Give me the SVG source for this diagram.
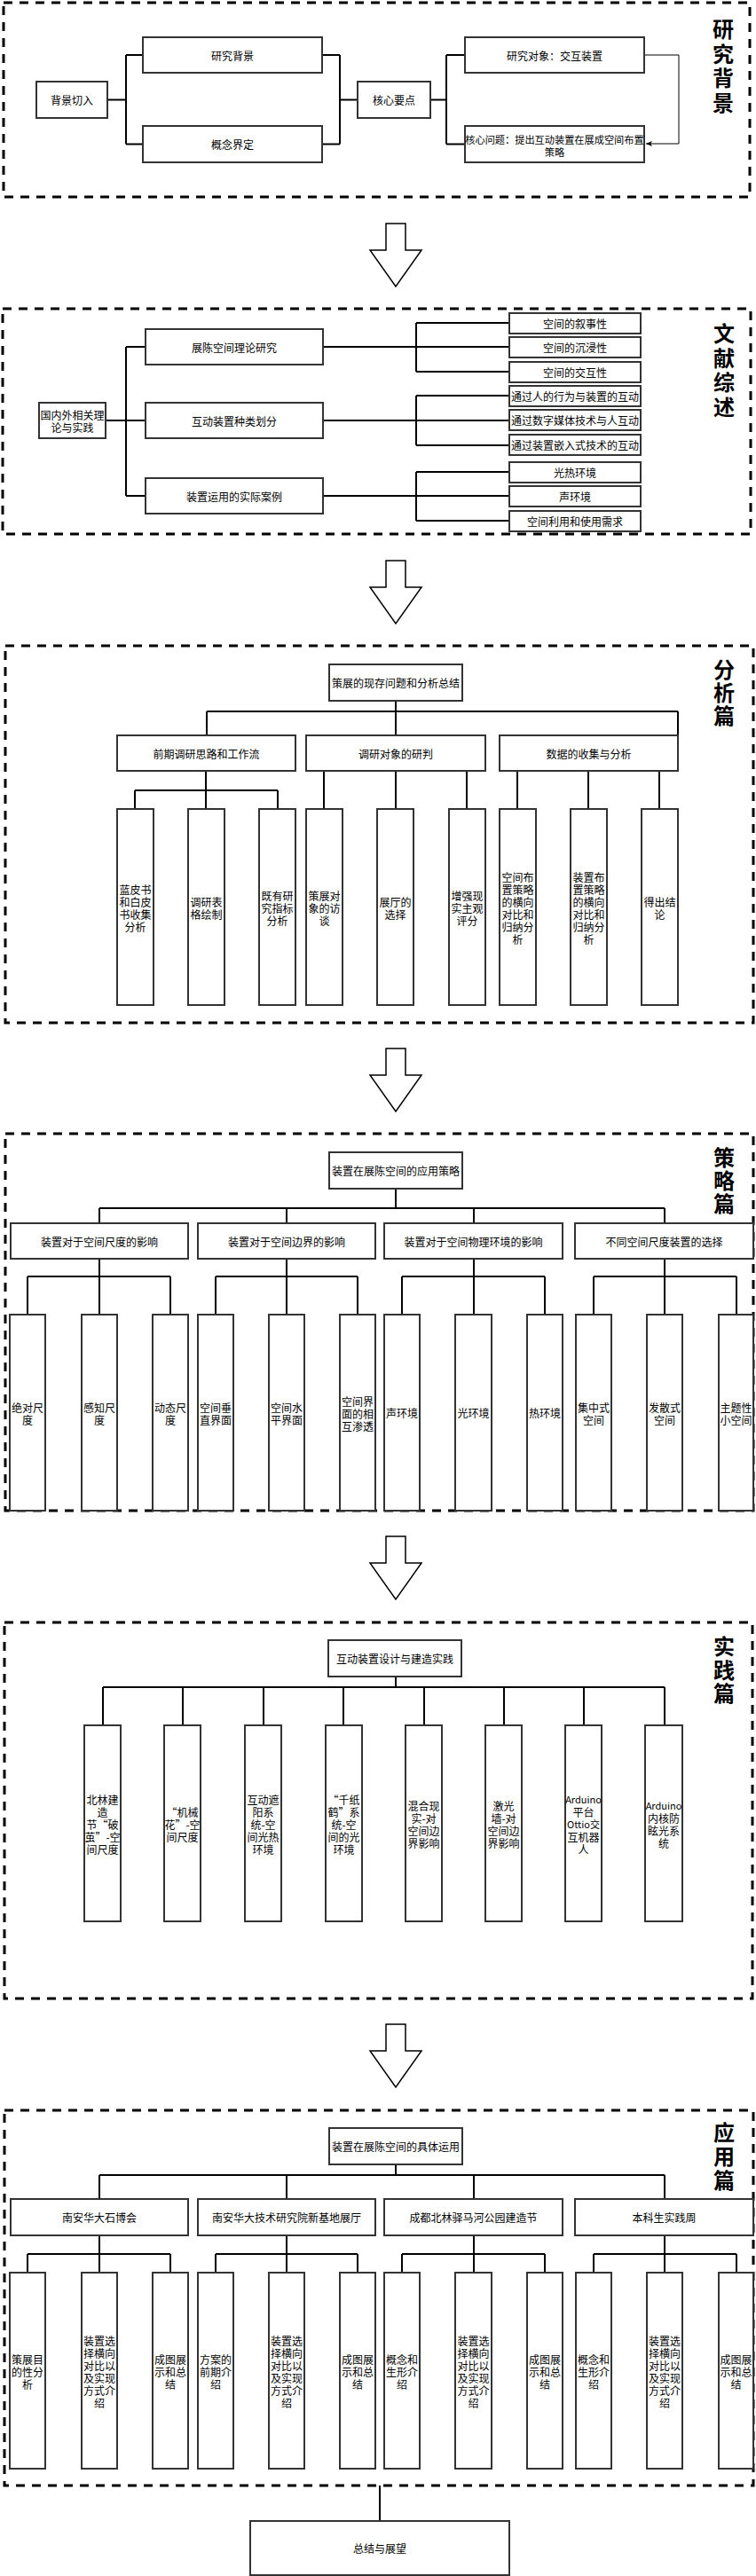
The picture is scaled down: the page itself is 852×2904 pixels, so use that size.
<svg xmlns="http://www.w3.org/2000/svg" width="852" height="2904" viewBox="0 0 852 2904">
<style>
.b{fill:#fff;stroke:#333;stroke-width:2}
.c{fill:none;stroke:#000;stroke-width:2}
.t{font-family:"Noto Sans CJK SC","Noto Sans",sans-serif;font-size:12px;text-anchor:middle;dominant-baseline:central;fill:#000}
.h{font-family:"Noto Sans CJK SC","Noto Sans",sans-serif;font-size:24px;font-weight:bold;writing-mode:vertical-rl;text-anchor:start;fill:#000}
.d{fill:none;stroke:#000;stroke-width:3;stroke-dasharray:10 8}
.ar{fill:#fff;stroke:#000;stroke-width:1.5}
</style>
<defs>
<marker id="m" viewBox="0 0 10 10" refX="9" refY="5" markerWidth="8" markerHeight="8" orient="auto" markerUnits="userSpaceOnUse"><path d="M0,1 L9,5 L0,9 L2.5,5 Z" fill="#000"/></marker>
</defs>

<!-- section frames -->
<g id="frames">
<rect class="d" x="4" y="3" width="841" height="219"/>
<rect class="d" x="3" y="348" width="843" height="254"/>
<rect class="d" x="6" y="728" width="843" height="425"/>
<rect class="d" x="6" y="1278" width="843" height="425"/>
<rect class="d" x="5" y="1829" width="843" height="424"/>
<rect class="d" x="5" y="2379" width="844" height="423"/>
</g>

<!-- section titles -->
<g id="titles">
<text class="h" x="815" y="21" style="letter-spacing:3.5px">研究背景</text>
<text class="h" x="816" y="364" style="letter-spacing:3.5px">文献综述</text>
<text class="h" x="816" y="743" style="letter-spacing:2px">分析篇</text>
<text class="h" x="816" y="1293" style="letter-spacing:2px">策略篇</text>
<text class="h" x="816" y="1844" style="letter-spacing:2.5px">实践篇</text>
<text class="h" x="816" y="2392" style="letter-spacing:3px">应用篇</text>
</g>

<!-- big arrows -->
<g id="arrows">
<path class="ar" d="M435,252 V282 H417 L446,323 L475,282 H457 V252 Z"/>
<path class="ar" d="M435,632 V662 H417 L446,703 L475,662 H457 V632 Z"/>
<path class="ar" d="M435,1182 V1212 H417 L446,1253 L475,1212 H457 V1182 Z"/>
<path class="ar" d="M435,1732 V1762 H417 L446,1803 L475,1762 H457 V1732 Z"/>
<path class="ar" d="M435,2282 V2312 H417 L446,2353 L475,2312 H457 V2282 Z"/>
</g>

<!-- connectors -->
<g id="connectors">
<!-- S1 -->
<path class="c" d="M121,112.5 H142 M142,62 V162.5 M142,62 H161 M142,162.5 H161"/>
<path class="c" d="M363,62 H383 M363,162.5 H383 M383,62 V162.5 M383,112.5 H403"/>
<path class="c" d="M485,112.5 H503 M503,62 V162.5 M503,62 H524 M503,162.5 H524"/>
<path fill="none" stroke="#000" stroke-width="1" d="M726,62 H765 V162 H728" marker-end="url(#m)"/>
<!-- S2 -->
<path class="c" d="M119,474 H164 M142,391 V559 M142,391 H164 M142,559 H164"/>
<path class="c" d="M364,391 H574 M469,364 V419 M469,364 H574 M469,419 H574"/>
<path class="c" d="M364,474 H574 M469,446 V502 M469,446 H574 M469,502 H574"/>
<path class="c" d="M364,559 H574 M469,532 V587 M469,532 H574 M469,587 H574"/>
<!-- S3 -->
<path class="c" d="M446,790 V802 M233,802 H764 M233,802 V829 M446,802 V829 M764,802 V829"/>
<path class="c" d="M232,869 V891 M152,891 H313 M152,891 V912 M232,891 V912 M313,891 V912"/>
<path class="c" d="M365,869 H526 M365,869 V912 M446,869 V912 M526,869 V912"/>
<path class="c" d="M583,869 H743 M583,869 V912 M663,869 V912 M743,869 V912"/>
<!-- S4 -->
<path class="c" d="M446,1340 V1362 M112,1362 H749 M112,1362 V1379 M323,1362 V1379 M534,1362 V1379 M749,1362 V1379"/>
<path class="c" d="M112,1419 V1439 M31,1439 H192 M31,1439 V1482 M112,1439 V1482 M192,1439 V1482"/>
<path class="c" d="M323,1419 V1439 M243,1439 H403 M243,1439 V1482 M323,1439 V1482 M403,1439 V1482"/>
<path class="c" d="M534,1419 V1439 M453,1439 H614 M453,1439 V1482 M534,1439 V1482 M614,1439 V1482"/>
<path class="c" d="M749,1419 V1439 M669,1439 H830 M669,1439 V1482 M749,1439 V1482 M830,1439 V1482"/>
<!-- S5 -->
<path class="c" d="M446,1890 V1902 M116,1902 H749 M116,1902 V1945 M206,1902 V1945 M297,1902 V1945 M387,1902 V1945 M478,1902 V1945 M568,1902 V1945 M658,1902 V1945 M749,1902 V1945"/>
<!-- S6 -->
<path class="c" d="M446,2440 V2452 M112,2452 H749 M112,2452 V2479 M323,2452 V2479 M534,2452 V2479 M749,2452 V2479"/>
<path class="c" d="M112,2520 V2541 M31,2541 H192 M31,2541 V2562 M112,2541 V2562 M192,2541 V2562"/>
<path class="c" d="M323,2520 V2541 M243,2541 H403 M243,2541 V2562 M323,2541 V2562 M403,2541 V2562"/>
<path class="c" d="M534,2520 V2541 M453,2541 H614 M453,2541 V2562 M534,2541 V2562 M614,2541 V2562"/>
<path class="c" d="M749,2520 V2541 M669,2541 H830 M669,2541 V2562 M749,2541 V2562 M830,2541 V2562"/>
<!-- bottom -->
<path class="c" d="M428,2802 V2842"/>
</g>

<!-- S1 nodes -->
<g id="n-bjqr"><rect class="b" x="41" y="92" width="80" height="41"/><text class="t" x="81" y="112.5">背景切入</text></g>
<g id="n-yjbj"><rect class="b" x="161" y="42" width="202" height="40"/><text class="t" x="262" y="62">研究背景</text></g>
<g id="n-gnjd"><rect class="b" x="161" y="142" width="202" height="41"/><text class="t" x="262" y="162.5">概念界定</text></g>
<g id="n-hxyd"><rect class="b" x="403" y="92" width="82" height="41"/><text class="t" x="444" y="112.5">核心要点</text></g>
<g id="n-yjdx"><rect class="b" x="524" y="42" width="202" height="40"/><text class="t" x="625" y="62">研究对象：交互装置</text></g>
<g id="n-hxwt"><rect class="b" x="524" y="142" width="202" height="41"/><text class="t" style="font-size:11.2px"><tspan x="625" y="157">核心问题：提出互动装置在展成空间布置</tspan><tspan x="625" y="171">策略</tspan></text></g>

<!-- S2 nodes -->
<g id="n-gnw"><rect class="b" x="44" y="454" width="75" height="40"/><text class="t"><tspan x="81.5" y="467">国内外相关理</tspan><tspan x="81.5" y="481">论与实践</tspan></text></g>
<g id="n-zckj"><rect class="b" x="164" y="371" width="200" height="40"/><text class="t" x="264" y="391">展陈空间理论研究</text></g>
<g id="n-hdzl"><rect class="b" x="164" y="454" width="200" height="40"/><text class="t" x="264" y="474">互动装置种类划分</text></g>
<g id="n-zzal"><rect class="b" x="164" y="539" width="200" height="40"/><text class="t" x="264" y="559">装置运用的实际案例</text></g>
<g id="n-r1"><rect class="b" x="574" y="353" width="148" height="23"/><text class="t" x="648" y="364.5">空间的叙事性</text></g>
<g id="n-r2"><rect class="b" x="574" y="380" width="148" height="23"/><text class="t" x="648" y="391.5">空间的沉浸性</text></g>
<g id="n-r3"><rect class="b" x="574" y="408" width="148" height="23"/><text class="t" x="648" y="419.5">空间的交互性</text></g>
<g id="n-r4"><rect class="b" x="574" y="435" width="148" height="23"/><text class="t" x="648" y="446.5">通过人的行为与装置的互动</text></g>
<g id="n-r5"><rect class="b" x="574" y="462" width="148" height="23"/><text class="t" x="648" y="473.5">通过数字媒体技术与人互动</text></g>
<g id="n-r6"><rect class="b" x="574" y="490" width="148" height="23"/><text class="t" x="648" y="501.5">通过装置嵌入式技术的互动</text></g>
<g id="n-r7"><rect class="b" x="574" y="521" width="148" height="23"/><text class="t" x="648" y="532.5">光热环境</text></g>
<g id="n-r8"><rect class="b" x="574" y="548" width="148" height="23"/><text class="t" x="648" y="559.5">声环境</text></g>
<g id="n-r9"><rect class="b" x="574" y="576" width="148" height="23"/><text class="t" x="648" y="587.5">空间利用和使用需求</text></g>

<!-- S3 nodes -->
<g id="n-czwt"><rect class="b" x="371" y="749" width="150" height="41"/><text class="t" x="446" y="769.5">策展的现存问题和分析总结</text></g>
<g id="n-qqdy"><rect class="b" x="132" y="829" width="201" height="40"/><text class="t" x="232.5" y="849">前期调研思路和工作流</text></g>
<g id="n-dydx"><rect class="b" x="345" y="829" width="202" height="40"/><text class="t" x="446" y="849">调研对象的研判</text></g>
<g id="n-sjsj"><rect class="b" x="563" y="829" width="201" height="40"/><text class="t" x="663.5" y="849">数据的收集与分析</text></g>
<g id="n-a1"><rect class="b" x="132" y="912" width="41" height="221"/><text class="t"><tspan x="152.5" y="1001.5">蓝皮书</tspan><tspan x="152.5" dy="14">和白皮</tspan><tspan x="152.5" dy="14">书收集</tspan><tspan x="152.5" dy="14">分析</tspan></text></g>
<g id="n-a2"><rect class="b" x="212" y="912" width="41" height="221"/><text class="t"><tspan x="232.5" y="1015.5">调研表</tspan><tspan x="232.5" dy="14">格绘制</tspan></text></g>
<g id="n-a3"><rect class="b" x="292" y="912" width="41" height="221"/><text class="t"><tspan x="312.5" y="1008.5">既有研</tspan><tspan x="312.5" dy="14">究指标</tspan><tspan x="312.5" dy="14">分析</tspan></text></g>
<g id="n-a4"><rect class="b" x="345" y="912" width="41" height="221"/><text class="t"><tspan x="365.5" y="1008.5">策展对</tspan><tspan x="365.5" dy="14">象的访</tspan><tspan x="365.5" dy="14">谈</tspan></text></g>
<g id="n-a5"><rect class="b" x="425" y="912" width="41" height="221"/><text class="t"><tspan x="445.5" y="1015.5">展厅的</tspan><tspan x="445.5" dy="14">选择</tspan></text></g>
<g id="n-a6"><rect class="b" x="506" y="912" width="41" height="221"/><text class="t"><tspan x="526.5" y="1008.5">增强现</tspan><tspan x="526.5" dy="14">实主观</tspan><tspan x="526.5" dy="14">评分</tspan></text></g>
<g id="n-a7"><rect class="b" x="563" y="912" width="41" height="221"/><text class="t"><tspan x="583.5" y="987.5">空间布</tspan><tspan x="583.5" dy="14">置策略</tspan><tspan x="583.5" dy="14">的横向</tspan><tspan x="583.5" dy="14">对比和</tspan><tspan x="583.5" dy="14">归纳分</tspan><tspan x="583.5" dy="14">析</tspan></text></g>
<g id="n-a8"><rect class="b" x="643" y="912" width="41" height="221"/><text class="t"><tspan x="663.5" y="987.5">装置布</tspan><tspan x="663.5" dy="14">置策略</tspan><tspan x="663.5" dy="14">的横向</tspan><tspan x="663.5" dy="14">对比和</tspan><tspan x="663.5" dy="14">归纳分</tspan><tspan x="663.5" dy="14">析</tspan></text></g>
<g id="n-a9"><rect class="b" x="723" y="912" width="41" height="221"/><text class="t"><tspan x="743.5" y="1015.5">得出结</tspan><tspan x="743.5" dy="14">论</tspan></text></g>

<!-- S4 nodes -->
<g id="n-yycl"><rect class="b" x="371" y="1299" width="150" height="41"/><text class="t" x="446" y="1319.5">装置在展陈空间的应用策略</text></g>
<g id="n-s1"><rect class="b" x="12" y="1379" width="200" height="40"/><text class="t" x="112" y="1399">装置对于空间尺度的影响</text></g>
<g id="n-s2"><rect class="b" x="223" y="1379" width="200" height="40"/><text class="t" x="323" y="1399">装置对于空间边界的影响</text></g>
<g id="n-s3"><rect class="b" x="433" y="1379" width="201" height="40"/><text class="t" x="533.5" y="1399">装置对于空间物理环境的影响</text></g>
<g id="n-s4"><rect class="b" x="648" y="1379" width="201" height="40"/><text class="t" x="748.5" y="1399">不同空间尺度装置的选择</text></g>
<g id="n-b1"><rect class="b" x="11" y="1482" width="40" height="221"/><text class="t"><tspan x="31" y="1585.5">绝对尺</tspan><tspan x="31" dy="14">度</tspan></text></g>
<g id="n-b2"><rect class="b" x="92" y="1482" width="40" height="221"/><text class="t"><tspan x="112" y="1585.5">感知尺</tspan><tspan x="112" dy="14">度</tspan></text></g>
<g id="n-b3"><rect class="b" x="172" y="1482" width="40" height="221"/><text class="t"><tspan x="192" y="1585.5">动态尺</tspan><tspan x="192" dy="14">度</tspan></text></g>
<g id="n-b4"><rect class="b" x="223" y="1482" width="40" height="221"/><text class="t"><tspan x="243" y="1585.5">空间垂</tspan><tspan x="243" dy="14">直界面</tspan></text></g>
<g id="n-b5"><rect class="b" x="303" y="1482" width="40" height="221"/><text class="t"><tspan x="323" y="1585.5">空间水</tspan><tspan x="323" dy="14">平界面</tspan></text></g>
<g id="n-b6"><rect class="b" x="383" y="1482" width="40" height="221"/><text class="t"><tspan x="403" y="1578.5">空间界</tspan><tspan x="403" dy="14">面的相</tspan><tspan x="403" dy="14">互渗透</tspan></text></g>
<g id="n-b7"><rect class="b" x="433" y="1482" width="40" height="221"/><text class="t" x="453" y="1592.5">声环境</text></g>
<g id="n-b8"><rect class="b" x="513" y="1482" width="41" height="221"/><text class="t" x="533.5" y="1592.5">光环境</text></g>
<g id="n-b9"><rect class="b" x="594" y="1482" width="40" height="221"/><text class="t" x="614" y="1592.5">热环境</text></g>
<g id="n-b10"><rect class="b" x="649" y="1482" width="40" height="221"/><text class="t"><tspan x="669" y="1585.5">集中式</tspan><tspan x="669" dy="14">空间</tspan></text></g>
<g id="n-b11"><rect class="b" x="729" y="1482" width="40" height="221"/><text class="t"><tspan x="749" y="1585.5">发散式</tspan><tspan x="749" dy="14">空间</tspan></text></g>
<g id="n-b12"><rect class="b" x="810" y="1482" width="39" height="221"/><text class="t"><tspan x="829.5" y="1585.5">主题性</tspan><tspan x="829.5" dy="14">小空间</tspan></text></g>

<!-- S5 nodes -->
<g id="n-sjjz"><rect class="b" x="370" y="1849" width="150" height="41"/><text class="t" x="445" y="1869.5">互动装置设计与建造实践</text></g>
<g id="n-p1"><rect class="b" x="95" y="1945" width="41" height="221"/><text class="t"><tspan x="115.5" y="2027.5">北林建</tspan><tspan x="115.5" dy="14">造</tspan><tspan x="115.5" dy="14">节“破</tspan><tspan x="115.5" dy="14">茧”-空</tspan><tspan x="115.5" dy="14">间尺度</tspan></text></g>
<g id="n-p2"><rect class="b" x="185" y="1945" width="41" height="221"/><text class="t"><tspan x="205.5" y="2041.5">“机械</tspan><tspan x="205.5" dy="14">花”-空</tspan><tspan x="205.5" dy="14">间尺度</tspan></text></g>
<g id="n-p3"><rect class="b" x="276" y="1945" width="41" height="221"/><text class="t"><tspan x="296.5" y="2027.5">互动遮</tspan><tspan x="296.5" dy="14">阳系</tspan><tspan x="296.5" dy="14">统-空</tspan><tspan x="296.5" dy="14">间光热</tspan><tspan x="296.5" dy="14">环境</tspan></text></g>
<g id="n-p4"><rect class="b" x="367" y="1945" width="41" height="221"/><text class="t"><tspan x="387.5" y="2027.5">“千纸</tspan><tspan x="387.5" dy="14">鹤”系</tspan><tspan x="387.5" dy="14">统-空</tspan><tspan x="387.5" dy="14">间的光</tspan><tspan x="387.5" dy="14">环境</tspan></text></g>
<g id="n-p5"><rect class="b" x="457" y="1945" width="41" height="221"/><text class="t"><tspan x="477.5" y="2034.5">混合现</tspan><tspan x="477.5" dy="14">实-对</tspan><tspan x="477.5" dy="14">空间边</tspan><tspan x="477.5" dy="14">界影响</tspan></text></g>
<g id="n-p6"><rect class="b" x="547" y="1945" width="41" height="221"/><text class="t"><tspan x="567.5" y="2034.5">激光</tspan><tspan x="567.5" dy="14">墙-对</tspan><tspan x="567.5" dy="14">空间边</tspan><tspan x="567.5" dy="14">界影响</tspan></text></g>
<g id="n-p7"><rect class="b" x="637" y="1945" width="41" height="221"/><text class="t"><tspan x="657.5" y="2027.5" style="font-size:11px">Arduino</tspan><tspan x="657.5" dy="14">平台</tspan><tspan x="657.5" dy="14" style="font-size:11px">Ottio交</tspan><tspan x="657.5" dy="14">互机器</tspan><tspan x="657.5" dy="14">人</tspan></text></g>
<g id="n-p8"><rect class="b" x="727" y="1945" width="42" height="221"/><text class="t"><tspan x="748" y="2034.5" style="font-size:11px">Arduino</tspan><tspan x="748" dy="14">内核防</tspan><tspan x="748" dy="14">眩光系</tspan><tspan x="748" dy="14">统</tspan></text></g>

<!-- S6 nodes -->
<g id="n-jtyy"><rect class="b" x="371" y="2399" width="150" height="41"/><text class="t" x="446" y="2419.5">装置在展陈空间的具体运用</text></g>
<g id="n-c1"><rect class="b" x="12" y="2479" width="200" height="41"/><text class="t" x="112" y="2499.5">南安华大石博会</text></g>
<g id="n-c2"><rect class="b" x="223" y="2479" width="200" height="41"/><text class="t" x="323" y="2499.5">南安华大技术研究院新基地展厅</text></g>
<g id="n-c3"><rect class="b" x="433" y="2479" width="201" height="41"/><text class="t" x="533.5" y="2499.5">成都北林驿马河公园建造节</text></g>
<g id="n-c4"><rect class="b" x="648" y="2479" width="201" height="41"/><text class="t" x="748.5" y="2499.5">本科生实践周</text></g>
<g id="n-e1"><rect class="b" x="11" y="2562" width="40" height="221"/><text class="t"><tspan x="31" y="2658.5">策展目</tspan><tspan x="31" dy="14">的性分</tspan><tspan x="31" dy="14">析</tspan></text></g>
<g id="n-e2"><rect class="b" x="92" y="2562" width="40" height="221"/><text class="t"><tspan x="112" y="2637.5">装置选</tspan><tspan x="112" dy="14">择横向</tspan><tspan x="112" dy="14">对比以</tspan><tspan x="112" dy="14">及实现</tspan><tspan x="112" dy="14">方式介</tspan><tspan x="112" dy="14">绍</tspan></text></g>
<g id="n-e3"><rect class="b" x="172" y="2562" width="40" height="221"/><text class="t"><tspan x="192" y="2658.5">成图展</tspan><tspan x="192" dy="14">示和总</tspan><tspan x="192" dy="14">结</tspan></text></g>
<g id="n-e4"><rect class="b" x="223" y="2562" width="40" height="221"/><text class="t"><tspan x="243" y="2658.5">方案的</tspan><tspan x="243" dy="14">前期介</tspan><tspan x="243" dy="14">绍</tspan></text></g>
<g id="n-e5"><rect class="b" x="303" y="2562" width="40" height="221"/><text class="t"><tspan x="323" y="2637.5">装置选</tspan><tspan x="323" dy="14">择横向</tspan><tspan x="323" dy="14">对比以</tspan><tspan x="323" dy="14">及实现</tspan><tspan x="323" dy="14">方式介</tspan><tspan x="323" dy="14">绍</tspan></text></g>
<g id="n-e6"><rect class="b" x="383" y="2562" width="40" height="221"/><text class="t"><tspan x="403" y="2658.5">成图展</tspan><tspan x="403" dy="14">示和总</tspan><tspan x="403" dy="14">结</tspan></text></g>
<g id="n-e7"><rect class="b" x="433" y="2562" width="40" height="221"/><text class="t"><tspan x="453" y="2658.5">概念和</tspan><tspan x="453" dy="14">生形介</tspan><tspan x="453" dy="14">绍</tspan></text></g>
<g id="n-e8"><rect class="b" x="513" y="2562" width="41" height="221"/><text class="t"><tspan x="533.5" y="2637.5">装置选</tspan><tspan x="533.5" dy="14">择横向</tspan><tspan x="533.5" dy="14">对比以</tspan><tspan x="533.5" dy="14">及实现</tspan><tspan x="533.5" dy="14">方式介</tspan><tspan x="533.5" dy="14">绍</tspan></text></g>
<g id="n-e9"><rect class="b" x="594" y="2562" width="40" height="221"/><text class="t"><tspan x="614" y="2658.5">成图展</tspan><tspan x="614" dy="14">示和总</tspan><tspan x="614" dy="14">结</tspan></text></g>
<g id="n-e10"><rect class="b" x="649" y="2562" width="40" height="221"/><text class="t"><tspan x="669" y="2658.5">概念和</tspan><tspan x="669" dy="14">生形介</tspan><tspan x="669" dy="14">绍</tspan></text></g>
<g id="n-e11"><rect class="b" x="729" y="2562" width="40" height="221"/><text class="t"><tspan x="749" y="2637.5">装置选</tspan><tspan x="749" dy="14">择横向</tspan><tspan x="749" dy="14">对比以</tspan><tspan x="749" dy="14">及实现</tspan><tspan x="749" dy="14">方式介</tspan><tspan x="749" dy="14">绍</tspan></text></g>
<g id="n-e12"><rect class="b" x="810" y="2562" width="39" height="221"/><text class="t"><tspan x="829.5" y="2658.5">成图展</tspan><tspan x="829.5" dy="14">示和总</tspan><tspan x="829.5" dy="14">结</tspan></text></g>

<!-- final -->
<g id="n-zjzw"><rect class="b" x="282" y="2842" width="292" height="61"/><text class="t" x="428" y="2872.5">总结与展望</text></g>
</svg>
